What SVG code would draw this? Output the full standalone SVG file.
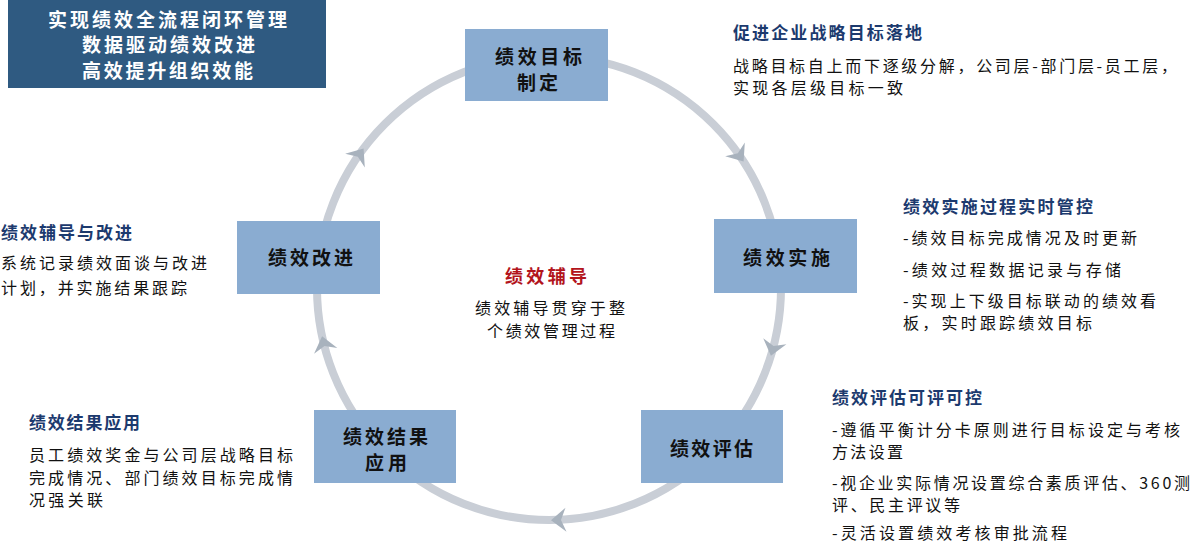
<svg xmlns="http://www.w3.org/2000/svg" width="1192" height="542" viewBox="0 0 1192 542">
<style>
text{font-family:"Noto Sans CJK SC","Liberation Sans",sans-serif;}
.box{fill:#8aacd1;}
.bt{font-size:19px;font-weight:bold;fill:#111;}
.tt{font-size:19px;font-weight:bold;fill:#fff;}
.hd{font-size:17px;font-weight:bold;fill:#1c3a6e;}
.bd{font-size:16px;fill:#111;}
.ct{font-size:18px;font-weight:bold;fill:#b3141c;}
.ring{fill:none;stroke:#c9ced6;stroke-width:8;}
.ah{fill:#a8b2bd;}
</style>
<defs>
<path id="chev" d="M8,0 L-7,-12 L-2,0 L-7,12 Z"/>
</defs>
<rect width="1192" height="542" fill="#fff"/>

<g id="connectors">
<circle class="ring" cx="549" cy="288" r="232"/>
<use href="#chev" class="ah" transform="translate(739,155) rotate(55)"/>
<use href="#chev" class="ah" transform="translate(773,348) rotate(105)"/>
<use href="#chev" class="ah" transform="translate(559,520) rotate(177.5)"/>
<use href="#chev" class="ah" transform="translate(324,344) rotate(256)"/>
<use href="#chev" class="ah" transform="translate(359,155) rotate(305)"/>
</g>

<g id="title">
<rect x="8" y="0" width="318" height="88" fill="#2f5a81"/>
<text class="tt" x="48" y="27" textLength="239" lengthAdjust="spacing">实现绩效全流程闭环管理</text>
<text class="tt" x="82" y="52" textLength="173" lengthAdjust="spacing">数据驱动绩效改进</text>
<text class="tt" x="82" y="78" textLength="171" lengthAdjust="spacing">高效提升组织效能</text>
</g>

<g id="node-goal">
<rect class="box" x="465" y="29" width="143" height="72"/>
<text class="bt" x="495" y="64" textLength="87" lengthAdjust="spacing">绩效目标</text>
<text class="bt" x="517" y="90" textLength="41" lengthAdjust="spacing">制定</text>
</g>

<g id="node-implement">
<rect class="box" x="714" y="219" width="143" height="74"/>
<text class="bt" x="743" y="265" textLength="87" lengthAdjust="spacing">绩效实施</text>
</g>

<g id="node-evaluate">
<rect class="box" x="641" y="410" width="142" height="73"/>
<text class="bt" x="670" y="456" textLength="83" lengthAdjust="spacing">绩效评估</text>
</g>

<g id="node-result">
<rect class="box" x="314" y="410" width="142" height="73"/>
<text class="bt" x="343" y="444" textLength="85" lengthAdjust="spacing">绩效结果</text>
<text class="bt" x="365" y="470" textLength="42" lengthAdjust="spacing">应用</text>
</g>

<g id="node-improve">
<rect class="box" x="237" y="221" width="143" height="73"/>
<text class="bt" x="268" y="265" textLength="85" lengthAdjust="spacing">绩效改进</text>
</g>

<g id="center">
<text class="ct" x="505" y="283" textLength="82" lengthAdjust="spacing">绩效辅导</text>
<text class="bd" x="475" y="314" textLength="150" lengthAdjust="spacing">绩效辅导贯穿于整</text>
<text class="bd" x="487" y="337" textLength="128" lengthAdjust="spacing">个绩效管理过程</text>
</g>

<g id="note-goal">
<text class="hd" x="733" y="39" textLength="189" lengthAdjust="spacing">促进企业战略目标落地</text>
<text class="bd" x="733" y="72" textLength="444" lengthAdjust="spacing">战略目标自上而下逐级分解，公司层-部门层-员工层，</text>
<text class="bd" x="733" y="94" textLength="170" lengthAdjust="spacing">实现各层级目标一致</text>
</g>

<g id="note-implement">
<text class="hd" x="903" y="213" textLength="190" lengthAdjust="spacing">绩效实施过程实时管控</text>
<text class="bd" x="903" y="244" textLength="234" lengthAdjust="spacing">-绩效目标完成情况及时更新</text>
<text class="bd" x="903" y="276" textLength="218" lengthAdjust="spacing">-绩效过程数据记录与存储</text>
<text class="bd" x="903" y="307" textLength="253" lengthAdjust="spacing">-实现上下级目标联动的绩效看</text>
<text class="bd" x="903" y="329" textLength="189" lengthAdjust="spacing">板，实时跟踪绩效目标</text>
</g>

<g id="note-evaluate">
<text class="hd" x="832" y="404" textLength="150" lengthAdjust="spacing">绩效评估可评可控</text>
<text class="bd" x="832" y="436" textLength="348" lengthAdjust="spacing">-遵循平衡计分卡原则进行目标设定与考核</text>
<text class="bd" x="832" y="458" textLength="71" lengthAdjust="spacing">方法设置</text>
<text class="bd" x="832" y="489" textLength="358" lengthAdjust="spacing">-视企业实际情况设置综合素质评估、360测</text>
<text class="bd" x="832" y="511" textLength="128" lengthAdjust="spacing">评、民主评议等</text>
<text class="bd" x="832" y="539" textLength="235" lengthAdjust="spacing">-灵活设置绩效考核审批流程</text>
</g>

<g id="note-result">
<text class="hd" x="29" y="429" textLength="111" lengthAdjust="spacing">绩效结果应用</text>
<text class="bd" x="29" y="461" textLength="264" lengthAdjust="spacing">员工绩效奖金与公司层战略目标</text>
<text class="bd" x="29" y="484" textLength="264" lengthAdjust="spacing">完成情况、部门绩效目标完成情</text>
<text class="bd" x="29" y="506" textLength="74" lengthAdjust="spacing">况强关联</text>
</g>

<g id="note-improve">
<text class="hd" x="1" y="239" textLength="131" lengthAdjust="spacing">绩效辅导与改进</text>
<text class="bd" x="1" y="269" textLength="206" lengthAdjust="spacing">系统记录绩效面谈与改进</text>
<text class="bd" x="1" y="294" textLength="186" lengthAdjust="spacing">计划，并实施结果跟踪</text>
</g>
</svg>
